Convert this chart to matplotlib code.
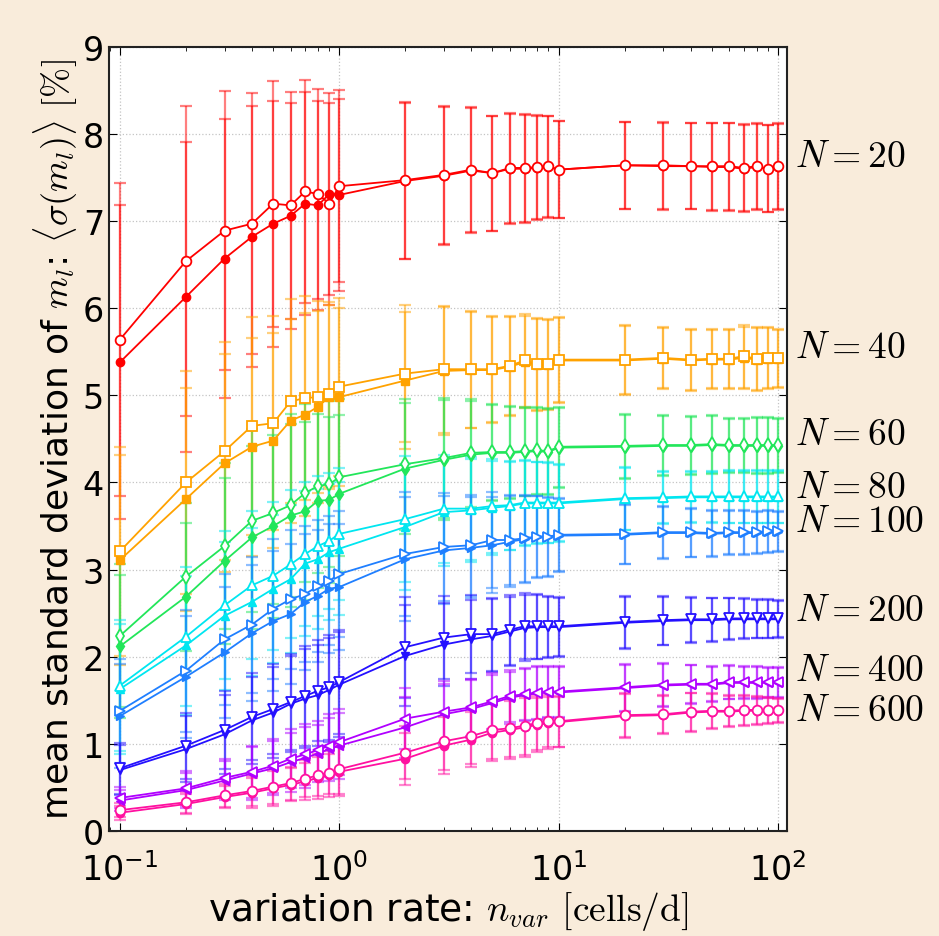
import matplotlib
matplotlib.use('Agg')
import matplotlib.pyplot as plt

plt.rcParams['mathtext.fontset'] = 'cm'

# variation rate n_var [cells/d]
x = [0.1, 0.2, 0.3, 0.4, 0.5, 0.6, 0.7, 0.8, 0.9, 1,
     2, 3, 4, 5, 6, 7, 8, 9, 10,
     20, 30, 40, 50, 60, 70, 80, 90, 100]

# mean std of m_l [%] -- open markers, filled markers, error bar half-size
n20_open = [5.64, 6.54, 6.89, 6.97, 7.20, 7.18, 7.34, 7.31, 7.20, 7.40,
            7.47, 7.53, 7.59, 7.55, 7.61, 7.61, 7.62, 7.63, 7.59,
            7.64, 7.64, 7.63, 7.63, 7.63, 7.61, 7.63, 7.60, 7.63]
n20_fill = [5.38, 6.13, 6.57, 6.82, 6.97, 7.06, 7.20, 7.18, 7.31, 7.30,
            7.46, 7.52, 7.58, 7.55, 7.60, 7.60, 7.61, 7.62, 7.59,
            7.64, 7.63, 7.63, 7.62, 7.62, 7.60, 7.62, 7.60, 7.62]
n20_err = [1.80, 1.78, 1.60, 1.50, 1.41, 1.30, 1.28, 1.20, 1.16, 1.10,
           0.90, 0.79, 0.72, 0.66, 0.63, 0.62, 0.60, 0.58, 0.56,
           0.50, 0.50, 0.49, 0.50, 0.50, 0.50, 0.49, 0.50, 0.49]

n40_open = [3.21, 4.00, 4.36, 4.65, 4.68, 4.93, 4.97, 4.98, 5.01, 5.10,
            5.25, 5.30, 5.30, 5.30, 5.34, 5.40, 5.36, 5.36, 5.41,
            5.41, 5.43, 5.41, 5.42, 5.42, 5.45, 5.42, 5.43, 5.43]
n40_fill = [3.11, 3.81, 4.22, 4.41, 4.48, 4.71, 4.78, 4.87, 4.98, 4.98,
            5.17, 5.28, 5.29, 5.29, 5.33, 5.38, 5.35, 5.35, 5.40,
            5.40, 5.42, 5.40, 5.41, 5.41, 5.43, 5.41, 5.42, 5.42]
n40_err = [1.20, 1.28, 1.25, 1.25, 1.23, 1.17, 1.17, 1.10, 1.06, 1.02,
           0.79, 0.73, 0.67, 0.61, 0.57, 0.53, 0.53, 0.52, 0.49,
           0.40, 0.35, 0.35, 0.34, 0.34, 0.36, 0.36, 0.35, 0.33]

n60_open = [2.24, 2.92, 3.27, 3.56, 3.65, 3.74, 3.88, 3.96, 3.98, 4.06,
            4.21, 4.28, 4.34, 4.35, 4.35, 4.36, 4.37, 4.36, 4.41,
            4.42, 4.43, 4.43, 4.44, 4.43, 4.43, 4.43, 4.43, 4.43]
n60_fill = [2.12, 2.69, 3.10, 3.37, 3.50, 3.62, 3.67, 3.79, 3.80, 3.87,
            4.16, 4.26, 4.32, 4.34, 4.34, 4.35, 4.36, 4.35, 4.40,
            4.41, 4.42, 4.42, 4.43, 4.42, 4.42, 4.42, 4.42, 4.42]
n60_err = [0.82, 0.85, 0.95, 1.05, 1.05, 1.05, 1.02, 1.00, 0.95, 0.90,
           0.75, 0.69, 0.62, 0.55, 0.53, 0.51, 0.50, 0.49, 0.46,
           0.37, 0.34, 0.33, 0.33, 0.31, 0.31, 0.32, 0.32, 0.31]

n80_open = [1.67, 2.23, 2.59, 2.82, 2.93, 3.06, 3.18, 3.27, 3.33, 3.41,
            3.58, 3.70, 3.70, 3.73, 3.74, 3.77, 3.77, 3.77, 3.77,
            3.82, 3.83, 3.84, 3.84, 3.84, 3.84, 3.84, 3.84, 3.84]
n80_fill = [1.63, 2.13, 2.47, 2.63, 2.78, 2.89, 3.07, 3.12, 3.20, 3.24,
            3.49, 3.66, 3.68, 3.71, 3.73, 3.76, 3.76, 3.76, 3.76,
            3.81, 3.82, 3.83, 3.83, 3.83, 3.83, 3.83, 3.83, 3.83]
n80_err = [0.75, 0.80, 0.85, 0.85, 0.85, 0.85, 0.83, 0.80, 0.78, 0.76,
           0.72, 0.62, 0.59, 0.54, 0.51, 0.49, 0.47, 0.46, 0.44,
           0.36, 0.30, 0.29, 0.29, 0.30, 0.30, 0.30, 0.30, 0.30]

n100_open = [1.38, 1.84, 2.20, 2.37, 2.55, 2.66, 2.72, 2.81, 2.87, 2.95,
             3.18, 3.26, 3.28, 3.34, 3.34, 3.36, 3.38, 3.38, 3.40,
             3.41, 3.43, 3.43, 3.42, 3.43, 3.43, 3.43, 3.44, 3.44]
n100_fill = [1.32, 1.77, 2.05, 2.27, 2.41, 2.49, 2.63, 2.70, 2.78, 2.80,
             3.12, 3.22, 3.25, 3.28, 3.32, 3.35, 3.37, 3.37, 3.39,
             3.40, 3.42, 3.42, 3.41, 3.42, 3.42, 3.42, 3.43, 3.43]
n100_err = [0.60, 0.70, 0.75, 0.78, 0.80, 0.80, 0.78, 0.76, 0.74, 0.72,
            0.71, 0.62, 0.58, 0.55, 0.52, 0.50, 0.47, 0.45, 0.42,
            0.34, 0.30, 0.28, 0.26, 0.25, 0.25, 0.24, 0.24, 0.23]

n200_open = [0.72, 0.98, 1.16, 1.31, 1.40, 1.48, 1.55, 1.61, 1.65, 1.71,
             2.11, 2.22, 2.26, 2.26, 2.31, 2.35, 2.35, 2.35, 2.35,
             2.40, 2.42, 2.43, 2.43, 2.44, 2.44, 2.44, 2.44, 2.44]
n200_fill = [0.70, 0.94, 1.11, 1.27, 1.36, 1.46, 1.52, 1.56, 1.62, 1.68,
             2.01, 2.14, 2.20, 2.24, 2.29, 2.33, 2.34, 2.34, 2.34,
             2.39, 2.41, 2.42, 2.42, 2.43, 2.43, 2.43, 2.43, 2.43]
n200_err = [0.29, 0.38, 0.45, 0.50, 0.52, 0.55, 0.57, 0.58, 0.60, 0.60,
            0.58, 0.48, 0.45, 0.42, 0.40, 0.38, 0.37, 0.35, 0.34,
            0.30, 0.28, 0.26, 0.25, 0.24, 0.23, 0.22, 0.22, 0.21]

n400_open = [0.38, 0.49, 0.61, 0.68, 0.75, 0.83, 0.88, 0.93, 0.98, 1.02,
             1.29, 1.37, 1.42, 1.49, 1.55, 1.57, 1.59, 1.60, 1.60,
             1.65, 1.68, 1.69, 1.69, 1.71, 1.71, 1.71, 1.71, 1.71]
n400_fill = [0.35, 0.47, 0.58, 0.66, 0.72, 0.79, 0.84, 0.89, 0.94, 0.98,
             1.19, 1.34, 1.40, 1.47, 1.53, 1.56, 1.58, 1.59, 1.59,
             1.64, 1.67, 1.68, 1.68, 1.70, 1.70, 1.70, 1.70, 1.70]
n400_err = [0.12, 0.20, 0.22, 0.30, 0.31, 0.34, 0.35, 0.33, 0.36, 0.38,
            0.35, 0.35, 0.33, 0.32, 0.30, 0.30, 0.30, 0.29, 0.29,
            0.27, 0.25, 0.22, 0.20, 0.19, 0.18, 0.18, 0.17, 0.17]

n600_open = [0.24, 0.33, 0.41, 0.46, 0.51, 0.55, 0.60, 0.64, 0.67, 0.71,
             0.90, 1.03, 1.09, 1.16, 1.18, 1.21, 1.24, 1.26, 1.26,
             1.33, 1.34, 1.37, 1.38, 1.38, 1.39, 1.39, 1.39, 1.39]
n600_fill = [0.21, 0.31, 0.39, 0.44, 0.49, 0.53, 0.57, 0.61, 0.64, 0.68,
             0.83, 0.98, 1.05, 1.13, 1.16, 1.19, 1.22, 1.24, 1.25,
             1.32, 1.33, 1.36, 1.37, 1.37, 1.38, 1.38, 1.38, 1.38]
n600_err = [0.08, 0.12, 0.13, 0.17, 0.20, 0.19, 0.21, 0.24, 0.25, 0.28,
            0.30, 0.33, 0.32, 0.33, 0.33, 0.34, 0.31, 0.30, 0.29,
            0.25, 0.22, 0.22, 0.20, 0.18, 0.17, 0.16, 0.15, 0.14]

labels = ['20', '40', '60', '80', '100', '200', '400', '600']
series = [(n20_open, n20_fill, n20_err), (n40_open, n40_fill, n40_err),
          (n60_open, n60_fill, n60_err), (n80_open, n80_fill, n80_err),
          (n100_open, n100_fill, n100_err), (n200_open, n200_fill, n200_err),
          (n400_open, n400_fill, n400_err), (n600_open, n600_fill, n600_err)]

colors = ['#ff0000', '#ffa200', '#22e65a', '#00e6f0',
          '#1f7fff', '#2410ff', '#b000ff', '#ff10a0']
markers = ['o', 's', 'd', '^', '>', 'v', '<', 'o']
label_y = [7.75, 5.55, 4.56, 3.95, 3.56, 2.54, 1.85, 1.39]

fig = plt.figure(figsize=(9.39, 9.37), dpi=100, facecolor='#f9ecdb')
ax = fig.add_axes([0.116, 0.112, 0.722, 0.837])
ax.set_facecolor('white')

for (yo, yf, e), c, m in zip(series, colors, markers):
    for y in (yf, yo):
        ax.errorbar(x, y, yerr=e, fmt='none', ecolor=c, elinewidth=1.6,
                    capsize=4, capthick=1.6, alpha=0.5, zorder=2)
    ax.plot(x, yf, marker=m, color=c, mfc=c, mec=c, ms=6, lw=1.3, zorder=3)
    ax.plot(x, yo, marker=m, color=c, mfc='white', mec=c, ms=7,
            mew=1.3, lw=1.3, zorder=4)

for lab, ly in zip(labels, label_y):
    ax.text(1.012, ly, r'$N=%s$' % lab, transform=ax.get_yaxis_transform(),
            fontsize=27, va='center', ha='left')

ax.set_xscale('log')
ax.set_xlim(0.0891, 110)
ax.set_ylim(0, 9)
ax.set_yticks(range(10))
ax.grid(True, which='major', ls=':', color='#c4c4c4', lw=0.9)
ax.tick_params(which='both', direction='in', top=True, right=True, labelsize=24)
ax.tick_params(axis='x', which='major', pad=15)
ax.tick_params(which='major', length=6)
ax.tick_params(which='minor', length=3)
for s in ax.spines.values():
    s.set_linewidth(1.5)
    s.set_color('#222222')

ax.set_xlabel(r'variation rate: $n_{var}$ $[\mathrm{cells/d}]$', fontsize=27, labelpad=2)
ax.set_ylabel(r'mean standard deviation of $m_l$: $\langle\sigma(m_l)\rangle$ $[\%]$',
              fontsize=26, labelpad=2)

fig.savefig('out.png', dpi=100, facecolor=fig.get_facecolor())
